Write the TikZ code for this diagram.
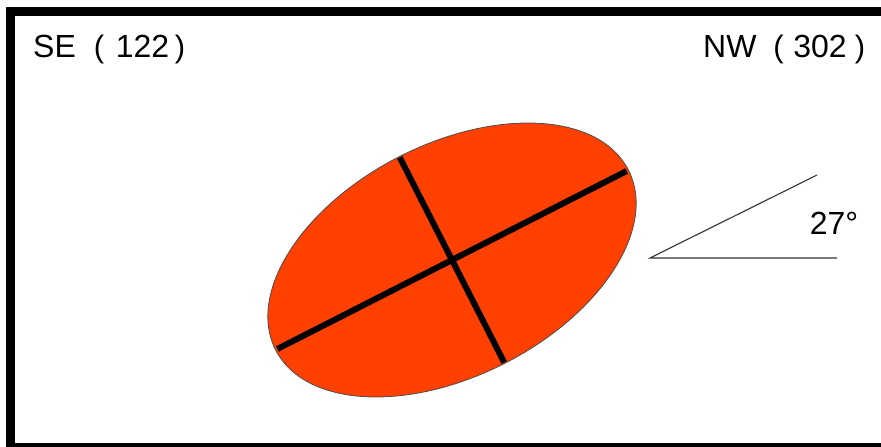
\documentclass[tikz,border=0pt]{standalone}
\usepackage{fontspec}
\usetikzlibrary{calc}
\setmainfont{Liberation Sans}
\definecolor{ellfill}{RGB}{255,64,0}
\begin{document}
\begin{tikzpicture}[x=1pt,y=1pt,
  lbl/.style={inner sep=0pt, anchor=base, font=\fontsize{32}{36}\selectfont},
  par/.style={inner sep=0pt, anchor=base, font=\fontsize{31}{36}\selectfont},
  frameline/.style={line width=9pt, draw=black},
  axisline/.style={line width=6pt, draw=black},
  thinline/.style={line width=1.1pt, draw=black!80}]
\useasboundingbox (0,0) rectangle (881,447);
\clip (0,0) rectangle (881,447);
\fill[white] (0,0) rectangle (881,447);
% frame
\draw[frameline] (10.5,-0.5) -- (10.5,435) -- (895,435);
\draw[frameline] (10.5,-0.5) -- (895,-0.5);
% ellipse
\coordinate (c) at (452,187);
\draw[fill=ellfill, draw=black!70, line width=0.8pt, rotate around={27:(c)}] (c) ellipse [x radius=198, y radius=116];
\coordinate (ma) at ($(c)+(207:196)$);
\coordinate (mb) at ($(c)+(27:196)$);
\coordinate (na) at ($(c)+(117:115)$);
\coordinate (nb) at ($(c)+(297:115)$);
\draw[axisline] (ma) -- (mb);
\draw[axisline] (na) -- (nb);
% angle
\coordinate (v) at (650,189);
\coordinate (h) at (837,189);
\coordinate (s) at (817,272);
\draw[thinline] (h) -- (v) -- (s);
\node[lbl] (ang) at (834,212) {27°};
% labels
\node[lbl, anchor=base west] (se) at (33,389) {SE};
\node[par] (sel) at (99,389) {(};
\node[lbl] (sen) at (142.5,389) {122};
\node[par] (ser) at (180,389) {)};
\node[lbl, anchor=base west] (nw) at (703,389) {NW};
\node[par] (nwl) at (778.5,389) {(};
\node[lbl] (nwn) at (820,389) {302};
\node[par] (nwr) at (860,389) {)};
\end{tikzpicture}
\end{document}
